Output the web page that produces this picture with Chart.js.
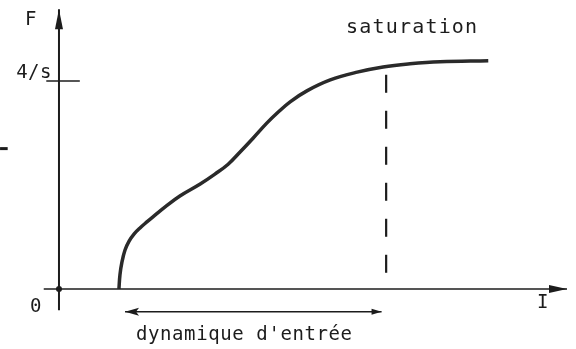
<!DOCTYPE html>
<html>
<head>
<meta charset="utf-8">
<script src="https://cdn.jsdelivr.net/npm/chart.js@4/dist/chart.umd.min.js"></script>
<style>
  html, body { margin: 0; padding: 0; background: #fff; }
  #wrap { width: 576px; height: 349px; position: relative; }
</style>
</head>
<body>
<div id="wrap"><canvas id="c"></canvas></div>
<script>
  // --- données (I en abscisse, F en ordonnée) ---
  const curveI = [1.18, 1.20, 1.24, 1.30, 1.38, 1.48, 1.59, 1.73, 1.89, 2.09, 2.38, 2.78, 3.07, 3.33, 3.56, 3.82, 4.09, 4.29, 4.55, 4.88, 5.34, 5.87, 6.38, 6.91, 7.50, 8.45];
  const curveF = [0.00, 0.27, 0.52, 0.75, 0.92, 1.06, 1.17, 1.29, 1.42, 1.58, 1.79, 2.02, 2.21, 2.40, 2.63, 2.90, 3.19, 3.38, 3.60, 3.81, 4.02, 4.17, 4.27, 4.33, 4.37, 4.39];

  const satI = 6.44;              // seuil de saturation (ligne pointillée)
  const satF = [4.12, 0.25];      // étendue verticale de la ligne pointillée
  const dynRange = [1.30, 6.35];  // flèche « dynamique d'entrée »
  const dynF = -0.44;

  const yTicks = [4];
  const yTickLabels = ["4/s"];

  const axisI = [-0.30, 10.0];    // axe horizontal
  const axisF = [-0.41, 5.38];    // axe vertical

  const ink = "#1c1c1c";
  const mono = "DejaVu Sans Mono, monospace";

  const seg = (xs, ys) => xs.map((x, i) => ({ x, y: ys[i] }));

  const labels = {
    id: "labels",
    afterDatasetsDraw(chart) {
      const { ctx, scales: { x, y } } = chart;
      const px = (v) => x.getPixelForValue(v);
      const py = (v) => y.getPixelForValue(v);
      ctx.save();
      ctx.fillStyle = ink;
      ctx.strokeStyle = ink;

      // flèche de l'axe F
      let ax = px(0), ay = py(axisF[1]);
      ctx.beginPath();
      ctx.moveTo(ax, ay);
      ctx.lineTo(ax - 4, ay + 20);
      ctx.lineTo(ax + 4, ay + 20);
      ctx.closePath();
      ctx.fill();

      // flèche de l'axe I
      ax = px(axisI[1]); ay = py(0);
      ctx.beginPath();
      ctx.moveTo(ax, ay);
      ctx.lineTo(ax - 18, ay - 4);
      ctx.lineTo(ax - 18, ay + 4);
      ctx.closePath();
      ctx.fill();

      // double flèche de la dynamique
      const dy = py(dynF);
      let l = px(dynRange[0]), r = px(dynRange[1]);
      ctx.lineWidth = 1.5;
      ctx.beginPath();
      ctx.moveTo(l, dy); ctx.lineTo(l + 14, dy - 4); ctx.lineTo(l + 11, dy); ctx.lineTo(l + 14, dy + 4); ctx.closePath();
      ctx.fill();
      ctx.beginPath();
      ctx.moveTo(r, dy); ctx.lineTo(r - 10, dy - 3); ctx.lineTo(r - 10, dy + 3); ctx.closePath();
      ctx.fill();

      // point à l'origine
      ctx.beginPath();
      ctx.arc(px(0), py(0), 3, 0, Math.PI * 2);
      ctx.fill();

      // textes
      ctx.font = "19px " + mono;
      ctx.letterSpacing = "0.5px";
      ctx.textBaseline = "alphabetic";
      ctx.textAlign = "right";
      ctx.fillText("F", px(0) - 22, py(axisF[1]) + 16);
      yTicks.forEach((t, i) => ctx.fillText(yTickLabels[i], px(0) - 7, py(t) - 3));
      ctx.fillText("0", px(0) - 17, py(0) + 23);
      ctx.textAlign = "center";
      ctx.fillText("I", px(axisI[1]) - 24, py(0) + 19);
      ctx.font = "20px " + mono;
      ctx.letterSpacing = "1.2px";
      ctx.fillText("saturation", px(satI) + 26, py(4.92));
      ctx.font = "19px " + mono;
      ctx.letterSpacing = "0.6px";
      ctx.fillText("dynamique d'entrée", (px(dynRange[0]) + px(dynRange[1])) / 2 - 9, py(dynF) + 28);
      ctx.restore();
    },
  };

  new Chart(document.getElementById("c"), {
    type: "scatter",
    data: {
      datasets: [
        { data: seg(axisI, [0, 0]), showLine: true, borderColor: ink, borderWidth: 1.6 },
        { data: seg([0, 0], axisF), showLine: true, borderColor: ink, borderWidth: 2 },
        { data: seg([-0.25, 0.41], [yTicks[0], yTicks[0]]), showLine: true, borderColor: ink, borderWidth: 1.6 },
        { data: seg(curveI, curveF), showLine: true, borderColor: "#2a2a2a", borderWidth: 3.5, tension: 0.4 },
        { data: seg([satI, satI], satF), showLine: true, borderColor: ink, borderWidth: 2.2, borderDash: [18, 18] },
        { data: seg(dynRange, [dynF, dynF]), showLine: true, borderColor: ink, borderWidth: 1.5 },
        { data: seg([-1.16, -1.01], [2.70, 2.70]), showLine: true, borderColor: ink, borderWidth: 3 },
      ].map((d) => Object.assign({ pointRadius: 0, pointHoverRadius: 0, clip: false }, d)),
    },
    options: {
      responsive: true,
      maintainAspectRatio: false,
      animation: false,
      layout: { padding: 0 },
      plugins: { legend: { display: false }, tooltip: { enabled: false } },
      scales: {
        x: { type: "linear", min: -1.161, max: 10.177, display: false },
        y: { type: "linear", min: -1.154, max: 5.558, display: false },
      },
    },
    plugins: [labels],
  });
</script>
</body>
</html>
